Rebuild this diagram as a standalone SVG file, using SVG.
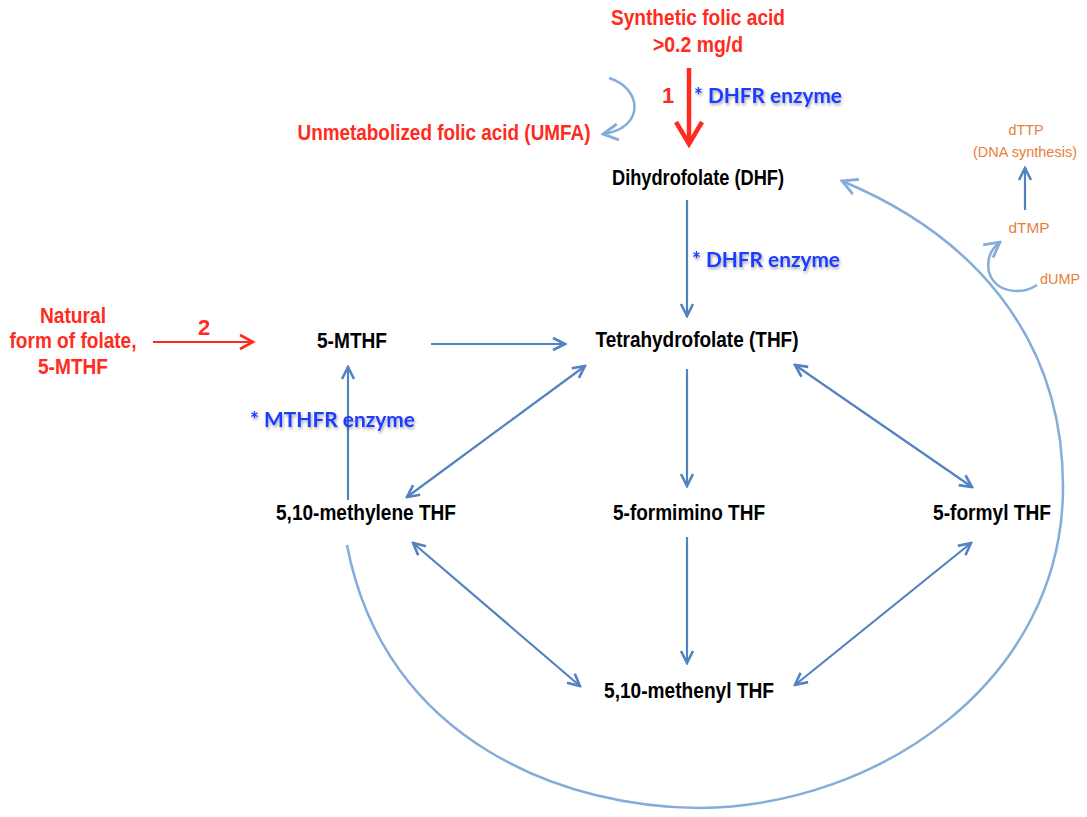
<svg xmlns="http://www.w3.org/2000/svg" width="1087" height="817" viewBox="0 0 1087 817">
<style>
.n{font-family:"Liberation Sans",Arial,sans-serif;font-weight:bold;font-size:22px;fill:#000;text-anchor:middle}
.r{fill:#FF2B20}
.e{font-family:Lato,"Open Sans",sans-serif;font-weight:bold;font-size:20px;fill:#1E3CFF;filter:url(#sh)}
.o{font-family:"Liberation Sans",Arial,sans-serif;font-size:15px;fill:#E8803A;text-anchor:middle}
.c{fill:none;stroke:#5282C0;stroke-width:2.2}
.l{fill:none;stroke:#86ACDA;stroke-width:2.5}
</style>
<defs>
<filter id="sh" x="-10%" y="-30%" width="130%" height="180%"><feDropShadow dx="1" dy="2" stdDeviation="1.5" flood-color="#000" flood-opacity="0.35"/></filter>
<marker id="a" markerUnits="userSpaceOnUse" viewBox="0 0 16 16" markerWidth="16" markerHeight="16" refX="14" refY="8" orient="auto-start-reverse"><path d="M2,2 L14,8 L2,14" fill="none" stroke="#5282C0" stroke-width="2.6" stroke-linejoin="miter"/></marker>
<marker id="al" markerUnits="userSpaceOnUse" viewBox="0 0 20 20" markerWidth="20" markerHeight="20" refX="18" refY="10" orient="auto"><path d="M3,2 L18,10 L3,18" fill="none" stroke="#86ACDA" stroke-width="2.8"/></marker>
<marker id="rb" markerUnits="userSpaceOnUse" viewBox="0 0 30 30" markerWidth="30" markerHeight="30" refX="26" refY="15" orient="auto"><path d="M4,2 L26,15 L4,28" fill="none" stroke="#FF2B20" stroke-width="4.5"/></marker>
<marker id="rs" markerUnits="userSpaceOnUse" viewBox="0 0 18 18" markerWidth="18" markerHeight="18" refX="15" refY="9" orient="auto"><path d="M2,2 L15,9 L2,16" fill="none" stroke="#FF2B20" stroke-width="2.6"/></marker>
</defs>

<g id="connectors">
<line x1="689" y1="68" x2="689" y2="144" stroke="#FF2B20" stroke-width="4.5" marker-end="url(#rb)"/>
<path class="l" d="M609,78 C642,88 646,128 603,134" marker-end="url(#al)"/>
<line class="c" x1="687" y1="200" x2="687" y2="316" marker-end="url(#a)"/>
<line x1="153" y1="342" x2="253" y2="342" stroke="#FF2B20" stroke-width="2.2" marker-end="url(#rs)"/>
<line class="c" x1="431" y1="344" x2="565" y2="344" marker-end="url(#a)"/>
<line class="c" x1="348" y1="500" x2="348" y2="367" marker-end="url(#a)"/>
<line class="c" x1="585" y1="366" x2="407" y2="497" marker-start="url(#a)" marker-end="url(#a)"/>
<line class="c" x1="687" y1="369" x2="687" y2="486" marker-end="url(#a)"/>
<line class="c" x1="795" y1="365" x2="972" y2="487" marker-start="url(#a)" marker-end="url(#a)"/>
<line class="c" x1="413" y1="543" x2="580" y2="686" marker-start="url(#a)" marker-end="url(#a)"/>
<line class="c" x1="687" y1="537" x2="687" y2="663" marker-end="url(#a)"/>
<line class="c" x1="971" y1="543" x2="795" y2="685" marker-start="url(#a)" marker-end="url(#a)"/>
<path class="l" d="M347,545 C385,745 570,808 700,808 C880,806 1063,680 1063,487 C1063,330 965,232 842,181" marker-end="url(#al)"/>
<line class="c" x1="1025" y1="210" x2="1025" y2="168" marker-end="url(#a)"/>
<path class="l" d="M1037,285 C1020,296 995,292 989,272 C986,258 991,249 1000,242" marker-end="url(#al)"/>
</g>

<g id="synthetic"><text class="n r" x="698" y="25" textLength="174" lengthAdjust="spacingAndGlyphs">Synthetic folic acid</text><text class="n r" x="698" y="52" textLength="90" lengthAdjust="spacingAndGlyphs">&gt;0.2 mg/d</text></g>
<g id="label1"><text class="n r" x="668" y="103" font-size="21">1</text></g>
<g id="dhfr1"><text class="e" x="694" y="103" textLength="148" lengthAdjust="spacingAndGlyphs">* DHFR enzyme</text></g>
<g id="umfa"><text class="n r" x="444" y="140" textLength="293" lengthAdjust="spacingAndGlyphs">Unmetabolized folic acid (UMFA)</text></g>
<g id="dhf"><text class="n" x="698" y="185" textLength="172" lengthAdjust="spacingAndGlyphs">Dihydrofolate (DHF)</text></g>
<g id="dhfr2"><text class="e" x="692" y="267" textLength="148" lengthAdjust="spacingAndGlyphs">* DHFR enzyme</text></g>
<g id="thf"><text class="n" x="697" y="347" textLength="203" lengthAdjust="spacingAndGlyphs">Tetrahydrofolate (THF)</text></g>
<g id="mthf"><text class="n" x="352" y="348" textLength="70" lengthAdjust="spacingAndGlyphs">5-MTHF</text></g>
<g id="natural"><text class="n r" x="73" y="323" textLength="66" lengthAdjust="spacingAndGlyphs">Natural</text><text class="n r" x="73" y="348" textLength="127" lengthAdjust="spacingAndGlyphs">form of folate,</text><text class="n r" x="73" y="374" textLength="70" lengthAdjust="spacingAndGlyphs">5-MTHF</text></g>
<g id="label2"><text class="n r" x="204" y="335" font-size="21">2</text></g>
<g id="mthfr"><text class="e" x="250" y="427" textLength="165" lengthAdjust="spacingAndGlyphs">* MTHFR enzyme</text></g>
<g id="methylene"><text class="n" x="366" y="520" textLength="180" lengthAdjust="spacingAndGlyphs">5,10-methylene THF</text></g>
<g id="formimino"><text class="n" x="689" y="520" textLength="152" lengthAdjust="spacingAndGlyphs">5-formimino THF</text></g>
<g id="formyl"><text class="n" x="992" y="520" textLength="118" lengthAdjust="spacingAndGlyphs">5-formyl THF</text></g>
<g id="methenyl"><text class="n" x="689" y="698" textLength="170" lengthAdjust="spacingAndGlyphs">5,10-methenyl THF</text></g>
<g id="dttp"><text class="o" x="1026" y="135" textLength="35" lengthAdjust="spacingAndGlyphs">dTTP</text><text class="o" x="1025" y="157" textLength="104" lengthAdjust="spacingAndGlyphs">(DNA synthesis)</text></g>
<g id="dtmp"><text class="o" x="1029" y="233" textLength="41" lengthAdjust="spacingAndGlyphs">dTMP</text></g>
<g id="dump"><text class="o" x="1060" y="284" textLength="40" lengthAdjust="spacingAndGlyphs">dUMP</text></g>
</svg>
